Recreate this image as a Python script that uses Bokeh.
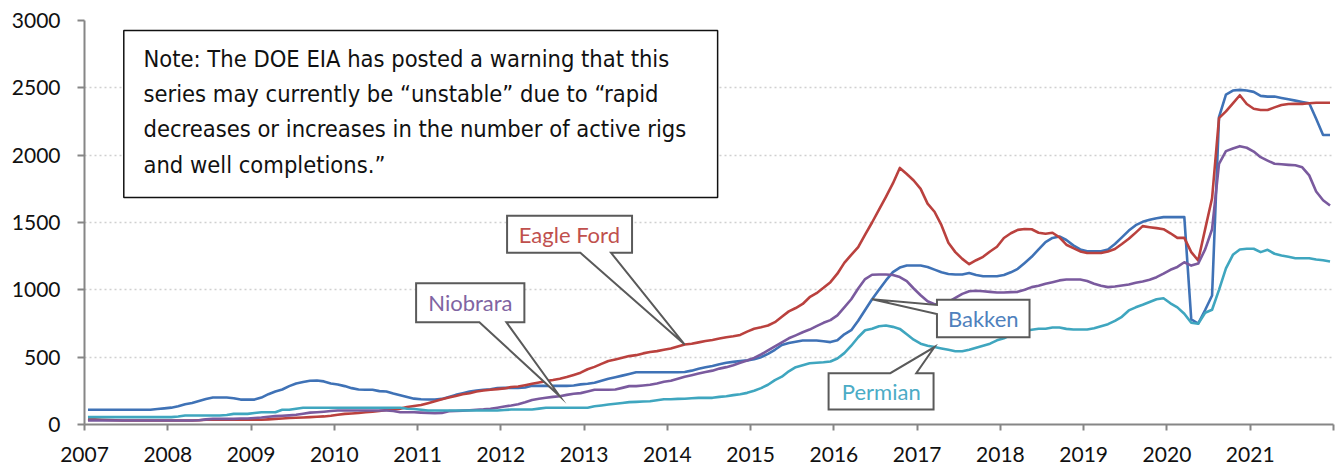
from bokeh.plotting import figure
from bokeh.models import FixedTicker, Range1d, BoxAnnotation
from bokeh.core.properties import value
from bokeh.embed import file_html
from bokeh.resources import INLINE

# ---------------- data (monthly, Jan 2007 - Dec 2021) ----------------
years = ["2007", "2008", "2009", "2010", "2011", "2012", "2013", "2014",
         "2015", "2016", "2017", "2018", "2019", "2020", "2021"]

bakken = [
    110, 110, 110, 110, 110, 110, 110, 110, 110, 110, 115, 120,
    125, 135, 150, 160, 175, 190, 200, 200, 200, 195, 185, 185,
    185, 200, 225, 245, 260, 285, 305, 315, 325, 327, 320, 305,
    297, 285, 270, 260, 258, 258, 248, 245, 230, 218, 205, 192,
    188, 186, 186, 190, 205, 220, 232, 245, 252, 258, 262, 270,
    272, 272, 272, 275, 287, 287, 287, 287, 287, 287, 290, 298,
    303, 310, 325, 340, 351, 363, 375, 388, 388, 388, 388, 388,
    388, 388, 390, 400, 414, 425, 435, 448, 458, 465, 472, 476,
    485, 500, 525, 555, 590, 605, 615, 624, 624, 624, 618, 612,
    625, 670, 700, 770, 850, 930, 1000, 1070, 1131, 1165, 1181, 1181,
    1181, 1170, 1150, 1130, 1118, 1114, 1114, 1125, 1110, 1101, 1101, 1101,
    1110, 1130, 1156, 1200, 1245, 1300, 1355, 1385, 1396, 1370, 1330, 1300,
    1287, 1287, 1287, 1300, 1340, 1390, 1440, 1480, 1505, 1520, 1532, 1540,
    1540, 1540, 1540, 780, 750, 850, 958, 2282, 2450, 2480, 2485, 2480,
    2470, 2440, 2435, 2435, 2425, 2415, 2405, 2395, 2385, 2270, 2150, 2150,
]

eagle_ford = [
    42, 38, 35, 33, 32, 30, 30, 30, 30, 30, 30, 30,
    30, 30, 30, 30, 32, 35, 35, 35, 35, 35, 35, 35,
    35, 35, 38, 42, 45, 48, 50, 52, 55, 58, 60, 65,
    72, 79, 82, 85, 91, 95, 100, 108, 111, 118, 130, 138,
    145, 158, 172, 188, 200, 212, 225, 232, 245, 252, 258, 263,
    268, 278, 282, 292, 303, 312, 322, 330, 340, 352, 368, 385,
    410, 428, 450, 472, 483, 495, 508, 515, 528, 538, 545, 555,
    565, 580, 594, 600, 610, 620, 628, 638, 648, 655, 665, 690,
    711, 722, 735, 760, 800, 840, 865, 895, 945, 975, 1015, 1057,
    1120, 1200, 1260, 1317, 1410, 1500, 1595, 1690, 1790, 1905, 1860, 1812,
    1750, 1640, 1580, 1480, 1350, 1280, 1230, 1190, 1220, 1245, 1285, 1320,
    1385, 1420, 1445, 1452, 1450, 1424, 1416, 1424, 1390, 1335, 1310, 1285,
    1273, 1273, 1273, 1285, 1303, 1340, 1379, 1425, 1473, 1465, 1458, 1450,
    1420, 1386, 1386, 1280, 1218, 1450, 1680, 2275, 2325, 2385, 2445, 2380,
    2345, 2335, 2335, 2355, 2372, 2380, 2381, 2381, 2385, 2389, 2389, 2389,
]

niobrara = [
    30, 30, 30, 30, 30, 30, 30, 30, 30, 30, 30, 30,
    30, 30, 30, 30, 32, 38, 42, 42, 42, 42, 45, 45,
    48, 52, 58, 62, 65, 68, 72, 80, 88, 91, 95, 100,
    104, 104, 104, 104, 104, 104, 104, 104, 100, 91, 91, 91,
    88, 86, 84, 86, 99, 100, 103, 106, 109, 112, 117, 125,
    134, 141, 150, 165, 182, 191, 198, 205, 210, 220, 228, 233,
    245, 258, 258, 258, 260, 272, 285, 285, 290, 295, 305, 318,
    325, 340, 355, 366, 378, 390, 400, 415, 426, 440, 458, 475,
    495, 520, 550, 580, 610, 640, 662, 685, 705, 730, 755, 775,
    810, 870, 930, 1010, 1080, 1112, 1114, 1114, 1110, 1095, 1065, 1010,
    960, 915, 893, 895, 910, 940, 970, 990, 993, 990, 985, 980,
    980, 983, 985, 1000, 1020, 1030, 1045, 1057, 1070, 1077, 1077, 1077,
    1065, 1045, 1030, 1020, 1025, 1032, 1040, 1052, 1062, 1075, 1094, 1120,
    1149, 1170, 1205, 1180, 1195, 1300, 1450, 1936, 2030, 2050, 2067, 2055,
    2027, 1985, 1960, 1936, 1932, 1928, 1925, 1910, 1850, 1730, 1665, 1626,
]

permian = [
    55, 55, 55, 55, 55, 55, 55, 55, 55, 55, 55, 55,
    55, 60, 67, 67, 67, 67, 67, 67, 70, 79, 79, 79,
    85, 91, 91, 91, 109, 109, 117, 124, 124, 124, 124, 124,
    124, 124, 124, 124, 124, 124, 124, 124, 124, 124, 117, 115,
    110, 104, 104, 104, 104, 104, 104, 104, 104, 104, 104, 104,
    108, 111, 111, 111, 111, 118, 124, 124, 124, 124, 124, 124,
    124, 135, 141, 148, 154, 160, 166, 168, 171, 173, 180, 188,
    188, 190, 191, 195, 198, 198, 198, 205, 210, 218, 225, 235,
    250, 270, 295, 330, 355, 395, 426, 440, 455, 458, 462, 468,
    490, 530, 585, 648, 700, 711, 730, 735, 725, 710, 670, 630,
    600, 585, 575, 565, 555, 544, 544, 555, 570, 585, 600, 625,
    640, 665, 680, 695, 703, 711, 711, 720, 720, 710, 705, 705,
    705, 715, 730, 745, 770, 800, 847, 870, 889, 910, 930, 938,
    900, 870, 822, 755, 748, 830, 852, 1000, 1160, 1260, 1300, 1305,
    1305, 1280, 1297, 1268, 1255, 1245, 1235, 1235, 1235, 1225, 1220, 1211,
]

# month positions (mid-month, in fractional years)
xs = [2007 + (i + 0.5) / 12 for i in range(len(bakken))]

# ---------------- styling ----------------
C_BAKKEN = "#3F72B6"
C_EAGLE = "#BA413E"
C_NIO = "#7A5A9E"
C_PERM = "#3FA6BF"
T_BAKKEN = "#4F81BD"
T_EAGLE = "#C0504D"
T_NIO = "#8064A2"
T_PERM = "#4BACC6"
AXIS_GREY = "#868686"
TICK_FONT = "Lato"
LABEL_FONT = "Lato"
NOTE_FONT = "DejaVu Sans Condensed"

p = figure(width=1343, height=471,
           x_range=Range1d(2007, 2022), y_range=Range1d(0, 3000),
           output_backend="svg", toolbar_location=None,
           min_border_left=84, min_border_right=10,
           min_border_top=20, min_border_bottom=47)
p.outline_line_color = None
p.background_fill_color = "white"
p.border_fill_color = "white"

# axes
tick_years = [int(y) for y in years] + [int(years[-1]) + 1]
p.xaxis.ticker = FixedTicker(ticks=tick_years)
p.xaxis.major_label_overrides = {int(y): y for y in years}
p.xaxis.major_label_overrides[int(years[-1]) + 1] = ""
p.yaxis.ticker = FixedTicker(ticks=[0, 500, 1000, 1500, 2000, 2500, 3000])
for ax in (p.xaxis[0], p.yaxis[0]):
    ax.axis_line_color = AXIS_GREY
    ax.axis_line_width = 2
    ax.major_tick_line_color = AXIS_GREY
    ax.major_tick_line_width = 2
    ax.major_tick_in = 0
    ax.minor_tick_line_color = None
    ax.major_label_text_font = TICK_FONT
    ax.major_label_text_font_size = "21px"
    ax.major_label_text_color = "#111111"
p.yaxis.major_tick_out = 7
p.yaxis.major_label_standoff = 17
p.xaxis.major_tick_out = 6
p.xaxis.major_label_standoff = 16

p.xgrid.grid_line_color = None
p.ygrid.grid_line_color = "#D0D0D0"
p.ygrid.grid_line_width = 1.5
p.ygrid.grid_line_dash = "2 3"

# series
for ys, col in ((bakken, C_BAKKEN), (eagle_ford, C_EAGLE),
                (niobrara, C_NIO), (permian, C_PERM)):
    p.line(xs, ys, line_color=col, line_width=2.6, line_join="round")


# ---------------- annotations (reference pixel geometry -> data units) ----------------
def X(px):
    return 2007 + (px - 84.0) / 83.29


def Y(py):
    return (424.0 - py) * 3000.0 / 404.0


def callout(L, R, T, B, side, n1, n2, tip):
    tx, ty = tip
    if side == "bottom":
        pts = [(X(L), Y(T)), (X(R), Y(T)), (X(R), Y(B)), (X(n2), Y(B)),
               (tx, ty), (X(n1), Y(B)), (X(L), Y(B))]
    elif side == "top":
        pts = [(X(L), Y(T)), (X(n1), Y(T)), (tx, ty), (X(n2), Y(T)),
               (X(R), Y(T)), (X(R), Y(B)), (X(L), Y(B))]
    else:  # left
        pts = [(X(L), Y(T)), (X(R), Y(T)), (X(R), Y(B)), (X(L), Y(B)),
               (X(L), Y(n2)), (tx, ty), (X(L), Y(n1))]
    p.patch([q[0] for q in pts], [q[1] for q in pts], fill_color="white",
            line_color="#5A5A5A", line_width=2, line_join="miter")


def label(txt, cx, cy, col):
    p.text([X(cx)], [Y(cy)], text=[txt], text_color=col,
           text_font=value(LABEL_FONT), text_font_size="22px",
           text_align="center", text_baseline="middle")


callout(506.7, 631.7, 215.3, 252.3, "bottom", 580, 610.7, (xs[86], eagle_ford[86]))
label("Eagle Ford", 569, 234, T_EAGLE)
callout(415.7, 524, 282.7, 321.7, "bottom", 479, 506, (xs[68], niobrara[68]))
label("Niobrara", 470, 302, T_NIO)
callout(936.7, 1029.3, 299.3, 336.7, "left", 304.5, 313.5, (xs[113], bakken[113]))
label("Bakken", 983, 318, T_BAKKEN)
callout(828.3, 933.3, 372.7, 409, "top", 890, 916, (xs[122], permian[122]))
label("Permian", 881, 391, T_PERM)

# note box
p.add_layout(BoxAnnotation(left=X(123.3), right=X(717.3), top=Y(30), bottom=Y(197),
                           fill_color="white", fill_alpha=1.0,
                           line_color="#111111", line_alpha=1.0, line_width=1.5))
note_lines = [
    "Note: The DOE EIA has posted a warning that this",
    "series may currently be \u201cunstable\u201d due to \u201crapid",
    "decreases or increases in the number of active rigs",
    "and well completions.\u201d",
]
note_y = [58, 93, 128, 164]
p.text([X(143)] * 4, [Y(v) for v in note_y], text=note_lines,
       text_color="#111111", text_font=value(NOTE_FONT), text_font_size="23.5px",
       text_align="left", text_baseline="middle", level="overlay")

open("out.html", "w").write(file_html(p, INLINE))
